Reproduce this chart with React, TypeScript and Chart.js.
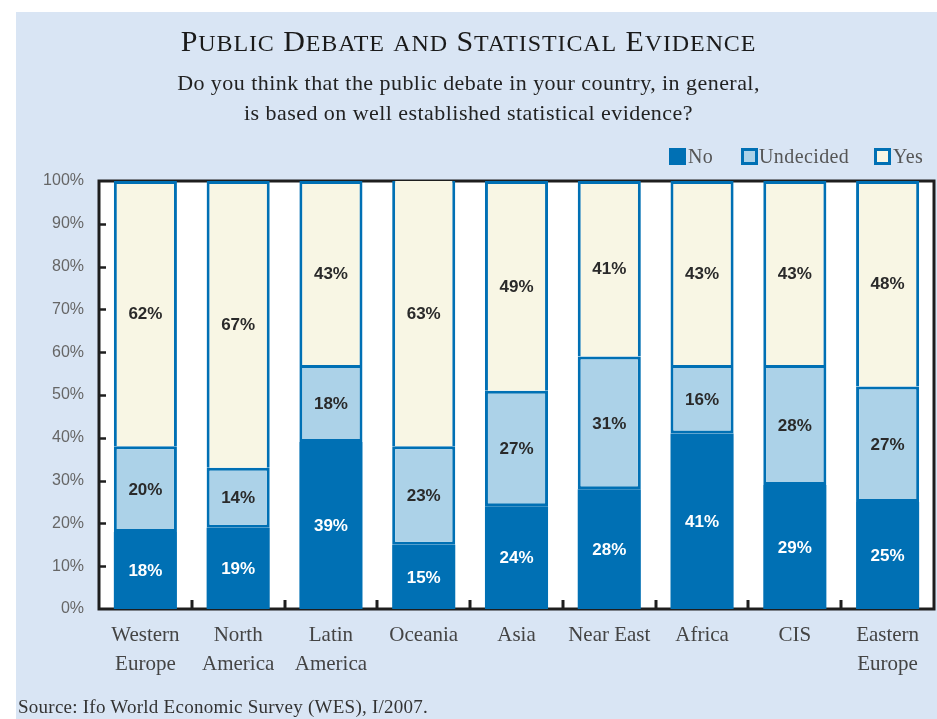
import React, { useEffect, useRef } from "react";
import { Chart, registerables } from "chart.js";

Chart.register(...registerables);

const categories: (string | string[])[] = [
  ["Western", "Europe"],
  ["North", "America"],
  ["Latin", "America"],
  "Oceania",
  "Asia",
  "Near East",
  "Africa",
  "CIS",
  ["Eastern", "Europe"],
];
const noValues = [18, 19, 39, 15, 24, 28, 41, 29, 25];
const undecidedValues = [20, 14, 18, 23, 27, 31, 16, 28, 27];
const yesValues = [62, 67, 43, 63, 49, 41, 43, 43, 48];
const seriesNames = ["No", "Undecided", "Yes"];
const yTickValues = [0, 10, 20, 30, 40, 50, 60, 70, 80, 90, 100];
const titleWords = ["Public", "Debate", "and", "Statistical", "Evidence"];
const subtitleLines = [
  "Do you think that the public debate in your country, in general,",
  "is based on well established statistical evidence?",
];
const sourceText = "Source: Ifo World Economic Survey (WES), I/2007.";

const BLUE = "#0070b4";
const LIGHT = "#acd2e8";
const CREAM = "#f8f6e4";
const PANEL = "#d9e5f4";
const SERIF = '"Liberation Serif", "Times New Roman", Times, serif';
const SANS = '"Liberation Sans", Arial, Helvetica, sans-serif';

const framePlugin = {
  id: "frame",
  beforeDraw(chart: any) {
    const { ctx, chartArea: a } = chart;
    ctx.save();
    ctx.fillStyle = "#ffffff";
    ctx.fillRect(a.left, a.top, a.right - a.left, a.bottom - a.top);
    ctx.restore();
  },
  beforeDatasetsDraw(chart: any) {
    const { ctx, chartArea: a } = chart;
    ctx.save();
    ctx.strokeStyle = "#1e1e1e";
    ctx.lineWidth = 3;
    ctx.strokeRect(a.left, a.top, a.right - a.left, a.bottom - a.top);
    ctx.restore();
  },
  afterDatasetsDraw(chart: any) {
    const { ctx, chartArea: a, scales } = chart;
    ctx.save();
    ctx.strokeStyle = "#1e1e1e";
    ctx.lineWidth = 2.5;
    yTickValues.forEach((v) => {
      if (v === 0 || v === 100) return;
      const y = Math.round(scales.y.getPixelForValue(v)) + 0.5;
      ctx.beginPath();
      ctx.moveTo(a.left, y);
      ctx.lineTo(a.left + 7, y);
      ctx.stroke();
    });
    const n = categories.length;
    const w = (a.right - a.left) / n;
    ctx.lineWidth = 3;
    for (let i = 1; i < n; i++) {
      const x = Math.round(a.left + i * w);
      ctx.beginPath();
      ctx.moveTo(x, a.bottom);
      ctx.lineTo(x, a.bottom - 9);
      ctx.stroke();
    }
    ctx.font = `bold 17px ${SANS}`;
    ctx.textAlign = "center";
    ctx.textBaseline = "middle";
    chart.data.datasets.forEach((ds: any, di: number) => {
      const meta = chart.getDatasetMeta(di);
      meta.data.forEach((el: any, i: number) => {
        const top = Math.max(el.y, a.top);
        const cy = (top + el.base) / 2;
        ctx.fillStyle = di === 0 ? "#ffffff" : "#2a2a2a";
        ctx.fillText(ds.data[i] + "%", el.x, cy + 1);
      });
    });
    ctx.restore();
  },
};

function Title() {
  return (
    <div
      style={{
        position: "absolute",
        left: 0,
        top: 26,
        width: 937,
        textAlign: "center",
        fontFamily: SERIF,
        color: "#1a1a1a",
        fontSize: 30,
        lineHeight: "30px",
        letterSpacing: "0.9px",
        whiteSpace: "nowrap",
      }}
    >
      {titleWords.map((w, i) => {
        const big = w[0] === w[0].toUpperCase();
        return (
          <React.Fragment key={i}>
            {i > 0 ? " " : ""}
            {big ? <span>{w[0]}</span> : null}
            <span style={{ fontSize: 24 }}>{(big ? w.slice(1) : w).toUpperCase()}</span>
          </React.Fragment>
        );
      })}
    </div>
  );
}

export default function App() {
  const canvasRef = useRef<HTMLCanvasElement | null>(null);

  useEffect(() => {
    if (!canvasRef.current) return;
    const chart = new Chart(canvasRef.current, {
      type: "bar",
      data: {
        labels: categories as any,
        datasets: [
          {
            label: seriesNames[0],
            data: noValues,
            backgroundColor: BLUE,
            borderColor: BLUE,
            borderWidth: 0,
            clip: 0,
          },
          {
            label: seriesNames[1],
            data: undecidedValues,
            backgroundColor: LIGHT,
            borderColor: BLUE,
            borderWidth: 3,
            borderSkipped: false,
            clip: 0,
          },
          {
            label: seriesNames[2],
            data: yesValues,
            backgroundColor: CREAM,
            borderColor: BLUE,
            borderWidth: { top: 3, left: 3, right: 3, bottom: 0 },
            borderSkipped: false,
            clip: 0,
          },
        ] as any,
      },
      options: {
        animation: false,
        responsive: false,
        devicePixelRatio: 1,
        events: [],
        layout: { padding: { top: 181, right: 3, left: 0, bottom: 0 } },
        datasets: { bar: { categoryPercentage: 1, barPercentage: 0.68 } },
        plugins: {
          legend: { display: false },
          title: { display: false },
          tooltip: { enabled: false },
        },
        scales: {
          x: {
            stacked: true,
            afterFit: (s: any) => {
              s.height = 110;
            },
            grid: { display: false, drawTicks: false },
            border: { display: false },
            ticks: {
              autoSkip: false,
              maxRotation: 0,
              minRotation: 0,
              padding: 12,
              color: "#444",
              font: { family: SERIF, size: 21, lineHeight: 1.38 },
            },
          },
          y: {
            stacked: true,
            min: 0,
            max: 100,
            afterFit: (s: any) => {
              s.width = 99;
            },
            afterBuildTicks: (s: any) => {
              s.ticks = yTickValues.map((v) => ({ value: v }));
            },
            grid: { display: false, drawTicks: false },
            border: { display: false },
            ticks: {
              padding: 15,
              color: "#666",
              font: { family: SANS, size: 16 },
              callback: (v: any) => v + "%",
            },
          },
        },
      },
      plugins: [framePlugin],
    } as any);
    return () => chart.destroy();
  }, []);

  const legendItems = [
    { name: seriesNames[0], fill: BLUE, sq: 669, tx: 688 },
    { name: seriesNames[1], fill: LIGHT, sq: 741, tx: 759 },
    { name: seriesNames[2], fill: CREAM, sq: 874, tx: 893 },
  ];

  return (
    <div
      style={{
        position: "absolute",
        left: 0,
        top: 0,
        width: 937,
        height: 719,
        background: "#ffffff",
        overflow: "hidden",
      }}
    >
      <div
        style={{
          position: "absolute",
          left: 16,
          top: 12,
          width: 921,
          height: 707,
          background: PANEL,
        }}
      />
      <canvas
        ref={canvasRef}
        width={937}
        height={719}
        style={{ position: "absolute", left: 0, top: 0, width: 937, height: 719 }}
      />
      <Title />
      <div
        style={{
          position: "absolute",
          left: 0,
          top: 68,
          width: 937,
          textAlign: "center",
          fontFamily: SERIF,
          fontSize: 22,
          letterSpacing: "0.45px",
          lineHeight: "30px",
          color: "#222",
          whiteSpace: "nowrap",
        }}
      >
        {subtitleLines.map((l, i) => (
          <div key={i}>{l}</div>
        ))}
      </div>
      {legendItems.map((it, i) => (
        <React.Fragment key={i}>
          <div
            style={{
              position: "absolute",
              left: it.sq,
              top: 148,
              width: 17,
              height: 17,
              boxSizing: "border-box",
              background: it.fill,
              border: `3px solid ${BLUE}`,
            }}
          />
          <div
            style={{
              position: "absolute",
              left: it.tx,
              top: 146,
              fontFamily: SERIF,
              fontSize: 20,
              letterSpacing: "0.4px",
              lineHeight: "20px",
              color: "#555",
              whiteSpace: "nowrap",
            }}
          >
            {it.name}
          </div>
        </React.Fragment>
      ))}
      <div
        style={{
          position: "absolute",
          left: 18,
          top: 697,
          fontFamily: SERIF,
          fontSize: 19,
          letterSpacing: "0.25px",
          lineHeight: "19px",
          color: "#333",
          whiteSpace: "nowrap",
        }}
      >
        {sourceText}
      </div>
    </div>
  );
}
